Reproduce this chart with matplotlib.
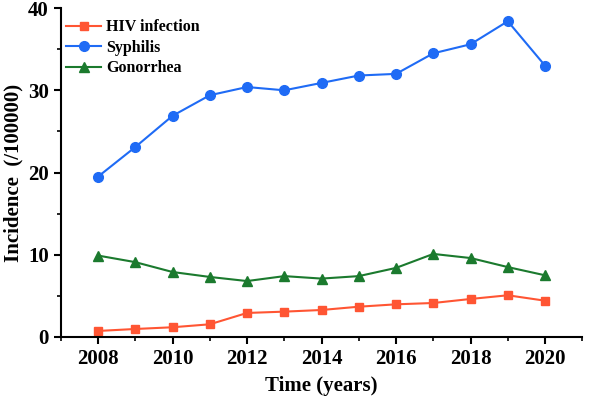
import matplotlib
matplotlib.use("Agg")
import matplotlib.pyplot as plt
from matplotlib.ticker import MultipleLocator

years = list(range(2008, 2021))
hiv = [0.73, 0.97, 1.18, 1.54, 2.92, 3.08, 3.28, 3.68, 3.97, 4.13, 4.62, 5.07, 4.41]
syphilis = [19.5, 23.1, 26.9, 29.4, 30.4, 30.0, 30.9, 31.8, 32.0, 34.5, 35.6, 38.4, 33.0]
gonorrhea = [9.9, 9.1, 7.9, 7.3, 6.8, 7.4, 7.1, 7.4, 8.4, 10.1, 9.6, 8.5, 7.5]

plt.rcParams['font.family'] = ['Liberation Serif', 'DejaVu Serif']
plt.rcParams['font.weight'] = 'bold'

fig = plt.figure(figsize=(5.96, 4.05), dpi=100)
ax = fig.add_axes([0.102, 0.168, 0.875, 0.812])

ax.plot(years, hiv, color='#FF5533', marker='s', markersize=6, linewidth=1.5, label='HIV infection')
ax.plot(years, syphilis, color='#1F6BF5', marker='o', markersize=7, linewidth=1.5, label='Syphilis')
ax.plot(years, gonorrhea, color='#1B7A2E', marker='^', markersize=7, linewidth=1.5, label='Gonorrhea')

ax.set_xlim(2007, 2021)
ax.set_ylim(0, 40)
ax.xaxis.set_major_locator(MultipleLocator(2))
ax.xaxis.set_minor_locator(MultipleLocator(1))
ax.yaxis.set_major_locator(MultipleLocator(10))
ax.yaxis.set_minor_locator(MultipleLocator(5))

for s in ['top', 'right']:
    ax.spines[s].set_visible(False)
for s in ['left', 'bottom']:
    ax.spines[s].set_linewidth(1.5)

ax.tick_params(which='major', direction='out', length=5, width=1.5, labelsize=15)
ax.tick_params(which='minor', direction='out', length=3, width=1.2)
for lab in ax.get_xticklabels() + ax.get_yticklabels():
    lab.set_fontweight('bold')

ax.set_xlabel('Time (years)', fontsize=15, fontweight='bold', labelpad=5)
ax.set_ylabel('Incidence  (/100000)', fontsize=15, fontweight='bold', labelpad=3)

ax.legend(loc='upper left', frameon=False, fontsize=11.5, handlelength=2.2,
          handletextpad=0.3, labelspacing=0.28, borderaxespad=0.2,
          bbox_to_anchor=(-0.008, 0.995))

fig.savefig('out.png', dpi=100)
